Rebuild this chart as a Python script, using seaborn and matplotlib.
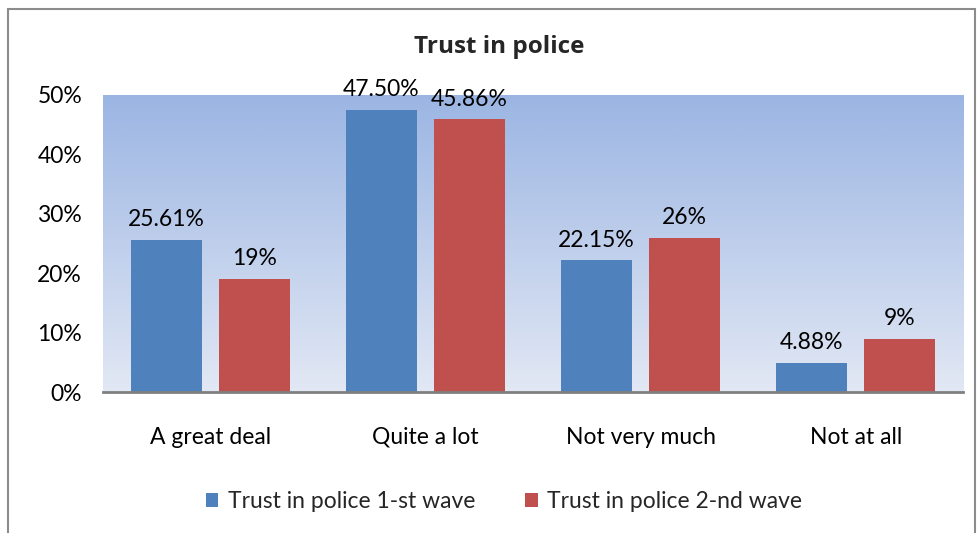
import numpy as np
import pandas as pd
import matplotlib
matplotlib.use("Agg")
import matplotlib.pyplot as plt
from matplotlib.patches import Rectangle
from matplotlib.ticker import FuncFormatter
import seaborn as sns

categories = ["A great deal", "Quite a lot", "Not very much", "Not at all"]
wave1 = [25.61, 47.50, 22.15, 4.88]
wave2 = [19, 45.86, 26, 9]
wave1_labels = ["25.61%", "47.50%", "22.15%", "4.88%"]
wave2_labels = ["19%", "45.86%", "26%", "9%"]
series_names = ["Trust in police 1-st wave", "Trust in police 2-nd wave"]
yticks = [0, 10, 20, 30, 40, 50]

df = pd.DataFrame({
    "category": categories * 2,
    "value": wave1 + wave2,
    "series": [series_names[0]] * 4 + [series_names[1]] * 4,
})

sns.set_theme(style="white")
plt.rcParams["font.family"] = ["Lato", "DejaVu Sans"]
FS = 16.5

fig = plt.figure(figsize=(9.8, 5.33), dpi=100)
ax = fig.add_axes([0.105, 0.2645, 0.878, 0.5575])

# vertical gradient behind the bars
grad = np.linspace(0, 1, 256).reshape(-1, 1)
top = np.array([0x9B, 0xB5, 0xE3]) / 255
bot = np.array([0xE2, 0xE8, 0xF4]) / 255
img = top * (1 - grad)[..., None] + bot * grad[..., None]
img = img.reshape(256, 1, 3)
ax.imshow(img, extent=[-0.5, 3.5, 0, 50], aspect="auto", zorder=0,
          interpolation="bicubic")

palette = {series_names[0]: "#4F81BD", series_names[1]: "#C0504D"}
sns.barplot(data=df, x="category", y="value", hue="series", order=categories,
            hue_order=series_names, palette=palette, width=0.82, gap=0.195,
            saturation=1, linewidth=0, ax=ax, zorder=2, legend=True)

ax.set_xlim(-0.5, 3.5)
ax.set_ylim(0, 50)
ax.set_yticks(yticks)
ax.yaxis.set_major_formatter(FuncFormatter(lambda v, p: f"{v:.0f}%"))
ax.set_xlabel("")
ax.set_ylabel("")
ax.tick_params(axis="y", labelsize=FS, pad=15, length=0, colors="black")
ax.tick_params(axis="x", labelsize=FS, pad=25, length=0, colors="black")
for s in ["top", "right", "left"]:
    ax.spines[s].set_visible(False)
ax.spines["bottom"].set_color("#808080")
ax.spines["bottom"].set_linewidth(2)
ax.spines["bottom"].set_zorder(3)

# value labels above each bar
for container, labels in zip(ax.containers, [wave1_labels, wave2_labels]):
    ax.bar_label(container, labels=labels, padding=7, fontsize=FS, color="black")

fig.text(499.5 / 980, 1 - 47 / 533, "Trust in police", ha="center", va="center",
         fontsize=17.5, fontweight="bold", family=["Open Sans", "DejaVu Sans"])

handles, labels = ax.get_legend_handles_labels()
ax.get_legend().remove()
fig.legend(handles, labels, loc="center", bbox_to_anchor=(504 / 980, 1 - 502 / 533),
           ncol=2, frameon=False, fontsize=FS, handlelength=0.55,
           handleheight=0.55, columnspacing=2.2, handletextpad=0.4)

# outer chart border
fig.patches.append(Rectangle((8 / 980, -0.1), 967 / 980, 1.1 - 9 / 533,
                             transform=fig.transFigure, fill=False,
                             edgecolor="#8C8C8C", linewidth=1.5))

fig.savefig("out.png", dpi=100)
